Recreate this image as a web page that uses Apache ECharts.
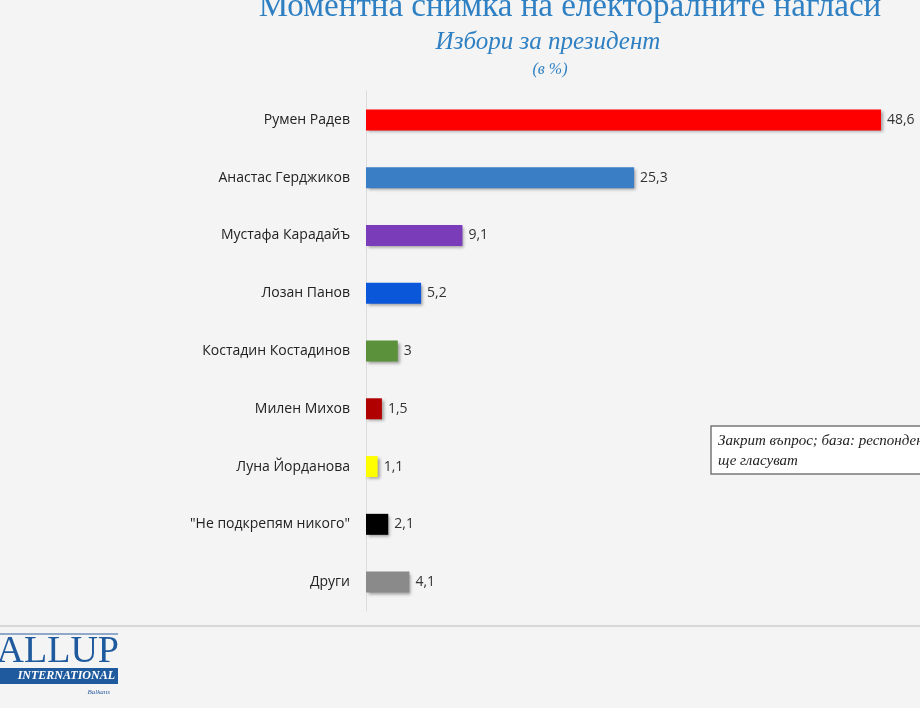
<!DOCTYPE html>
<html>
<head>
<meta charset="utf-8">
<script src="https://cdn.jsdelivr.net/npm/echarts@6/dist/echarts.min.js"></script>
<style>
  html, body { margin: 0; padding: 0; background: #f4f4f4; }
  #chart { width: 920px; height: 708px; }
</style>
</head>
<body>
<div id="chart"></div>
<script>
const candidates = ['Румен Радев', 'Анастас Герджиков', 'Мустафа Карадайъ', 'Лозан Панов',
  'Костадин Костадинов', 'Милен Михов', 'Луна Йорданова', '"Не подкрепям никого"', 'Други'];
const shares = [48.6, 25.3, 9.1, 5.2, 3, 1.5, 1.1, 2.1, 4.1];
const barColors = ['#ff0000', '#3a7ec6', '#7b3cb9', '#0b57d9', '#5b913b', '#b10000', '#ffff00', '#000000', '#8a8a8a'];

const myChart = echarts.init(document.getElementById('chart'));

const option = {
  backgroundColor: '#f4f4f4',
  animation: false,
  grid: { left: 366, right: 3, top: 91, height: 520 },
  xAxis: {
    type: 'value',
    min: 0,
    max: 52,
    show: false
  },
  yAxis: {
    type: 'category',
    inverse: true,
    data: candidates,
    axisLine: { show: true, lineStyle: { color: '#dcdcdc', width: 1 } },
    axisTick: { show: false },
    axisLabel: { color: '#222', fontSize: 14, fontFamily: 'Open Sans', margin: 16 }
  },
  series: [{
    type: 'bar',
    barWidth: 21,
    data: shares.map((v, i) => ({
      value: v,
      itemStyle: { color: barColors[i] }
    })),
    itemStyle: {
      shadowBlur: 3,
      shadowOffsetX: 2,
      shadowOffsetY: 2,
      shadowColor: 'rgba(0,0,0,0.35)'
    },
    label: {
      show: true,
      position: 'right',
      distance: 6,
      color: '#333',
      fontSize: 14,
      fontFamily: 'Open Sans',
      formatter: p => String(p.value).replace('.', ',')
    }
  }],
  graphic: [
    { type: 'text', x: 570, y: 24,
      style: { text: 'Моментна снимка на електоралните нагласи', fontSize: 33, fontFamily: 'Liberation Serif', fill: '#2f80c3', align: 'center', verticalAlign: 'bottom' } },
    { type: 'text', x: 548, y: 42,
      style: { text: 'Избори за президент', fontSize: 25, fontStyle: 'italic', fontFamily: 'Liberation Serif', fill: '#2f80c3', align: 'center', verticalAlign: 'middle' } },
    { type: 'text', x: 550, y: 70,
      style: { text: '(в %)', fontSize: 16, fontStyle: 'italic', fontFamily: 'Liberation Serif', fill: '#2f80c3', align: 'center', verticalAlign: 'middle' } },
    { type: 'rect', shape: { x: 711, y: 426, width: 230, height: 48 },
      style: { fill: '#ffffff', stroke: '#777', lineWidth: 1.5 } },
    { type: 'text', x: 718, y: 431,
      style: { text: 'Закрит въпрос; база: респондентите, които\nще гласуват', fontSize: 15, lineHeight: 20, fontStyle: 'italic', fontFamily: 'Liberation Serif', fill: '#222' } },
    { type: 'line', shape: { x1: 0, y1: 626, x2: 920, y2: 626 },
      style: { stroke: '#d8d8d8', lineWidth: 2 } },
    { type: 'line', shape: { x1: 0, y1: 634, x2: 118, y2: 634 },
      style: { stroke: '#2d5f9e', lineWidth: 1 } },
    { type: 'text', x: 119, y: 652,
      style: { text: 'GALLUP', fontSize: 38, fontFamily: 'Liberation Serif', fill: '#1f5a9e', align: 'right', verticalAlign: 'middle' } },
    { type: 'rect', shape: { x: 0, y: 668, width: 118, height: 16 },
      style: { fill: '#1f5a9e' } },
    { type: 'text', x: 115, y: 676,
      style: { text: 'INTERNATIONAL', fontSize: 12, fontWeight: 'bold', fontStyle: 'italic', fontFamily: 'Liberation Serif', fill: '#ffffff', align: 'right', verticalAlign: 'middle' } },
    { type: 'text', x: 110, y: 692,
      style: { text: 'Balkans', fontSize: 7, fontStyle: 'italic', fontFamily: 'Liberation Serif', fill: '#2d5f9e', align: 'right', verticalAlign: 'middle' } }
  ]
};

option && myChart.setOption(option);
</script>
</body>
</html>
